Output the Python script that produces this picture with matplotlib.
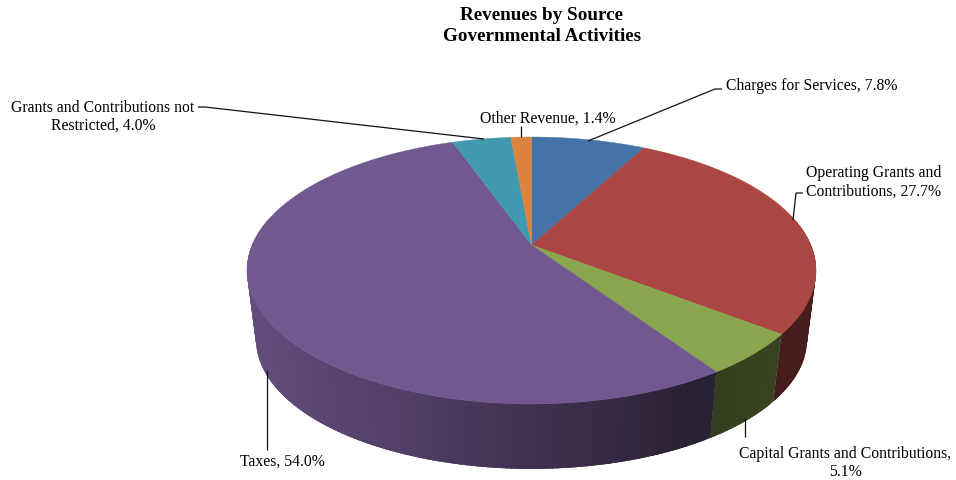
import matplotlib
matplotlib.use('Agg')
import matplotlib.pyplot as plt
import numpy as np
from matplotlib.patches import Polygon

# Shares of revenue, clockwise from 12 o'clock
sources = ['Charges for Services', 'Operating Grants and Contributions',
           'Capital Grants and Contributions', 'Taxes',
           'Grants and Contributions not Restricted', 'Other Revenue']
shares = [7.8, 27.7, 5.1, 54.0, 4.0, 1.4]
colors = ['#4572A7', '#AA4643', '#89A54E', '#71588F', '#4198AF', '#DB843D']

# Pie geometry in figure pixels (the reference has perspective, hence persp)
cx, cy = 531.5, 245
rx, ry = 279.3, 128.6
persp = 0.191
depth = 70
shrink = 0.968


def rim(theta, drop=0.0, scale=1.0):
    u, v = np.sin(theta), np.cos(theta)
    w = 1 + persp * v
    return cx + scale * rx * u / w, cy + drop - scale * ry * v / w


def side_shade(x):
    return np.interp(x, [247, 400, 531, 700, 816], [0.87, 0.72, 0.56, 0.37, 0.42])


fig = plt.figure(figsize=(9.56, 4.8), dpi=100)
ax = fig.add_axes([0, 0, 1, 1])
ax.set_xlim(0, 956)
ax.set_ylim(480, 0)
ax.axis('off')

plt.rcParams['font.family'] = ['Liberation Serif', 'DejaVu Serif']

edges = np.radians(np.cumsum([0] + shares) * 3.6)

# Side wall as thin strips, each one overlaps the next so no seams show
for i, col in enumerate(colors):
    base = np.array(matplotlib.colors.to_rgb(col))
    th = np.arange(edges[i], edges[i + 1] + 1e-6, np.radians(1.0))
    th = np.append(th, edges[i + 1])
    for t0, t1 in zip(th[:-1], th[1:]):
        if np.cos((t0 + t1) / 2) > 0.2:
            continue
        t2 = min(t1 + np.radians(1.5), edges[i + 1])
        x0, y0 = rim(t0)
        x1, y1 = rim(t2)
        x2, y2 = rim(t2, depth, shrink)
        x3, y3 = rim(t0, depth, shrink)
        shade = side_shade(rim((t0 + t1) / 2)[0])
        ax.add_patch(Polygon([(x0, y0), (x1, y1), (x2, y2), (x3, y3)],
                             closed=True, fc=tuple(base * shade), lw=0, zorder=2))

# Top face
for i, col in enumerate(colors):
    th = np.linspace(edges[i], edges[i + 1], 200)
    xs, ys = rim(th)
    pts = np.column_stack([np.r_[cx, xs], np.r_[cy, ys]])
    ax.add_patch(Polygon(pts, closed=True, fc=col, ec=col, lw=0.3, zorder=3))

# Leader lines
leaders = [
    ([198, 205, 484], [107, 107, 139]),
    ([521, 521], [126, 137]),
    ([722, 715, 588], [89, 89, 141]),
    ([803, 796, 793], [193, 193, 220]),
    ([745, 745], [418, 437]),
    ([267, 267], [370, 450]),
]
for lx, ly in leaders:
    ax.plot(lx, ly, color='#111111', lw=0.9, zorder=4, solid_capstyle='butt')

fs = 11.3
ax.text(103, 117, 'Grants and Contributions not\nRestricted, 4.0%', ha='center', va='center',
        fontsize=fs, linespacing=1.13)
ax.text(548, 119, 'Other Revenue, 1.4%', ha='center', va='center', fontsize=fs)
ax.text(812, 86, 'Charges for Services, 7.8%', ha='center', va='center', fontsize=fs)
ax.text(874, 182.5, 'Operating Grants and\nContributions, 27.7%', ha='center', va='center',
        fontsize=fs, linespacing=1.2)
ax.text(845.5, 463, 'Capital Grants and Contributions,\n5.1%', ha='center', va='center',
        fontsize=fs, linespacing=1.13)
ax.text(282, 462, 'Taxes, 54.0%', ha='center', va='center', fontsize=fs)
ax.text(542, 26, 'Revenues by Source\nGovernmental Activities', ha='center', va='center',
        fontsize=13.8, fontweight='bold', linespacing=1.3)

fig.savefig('out.png', dpi=100, facecolor='white')
